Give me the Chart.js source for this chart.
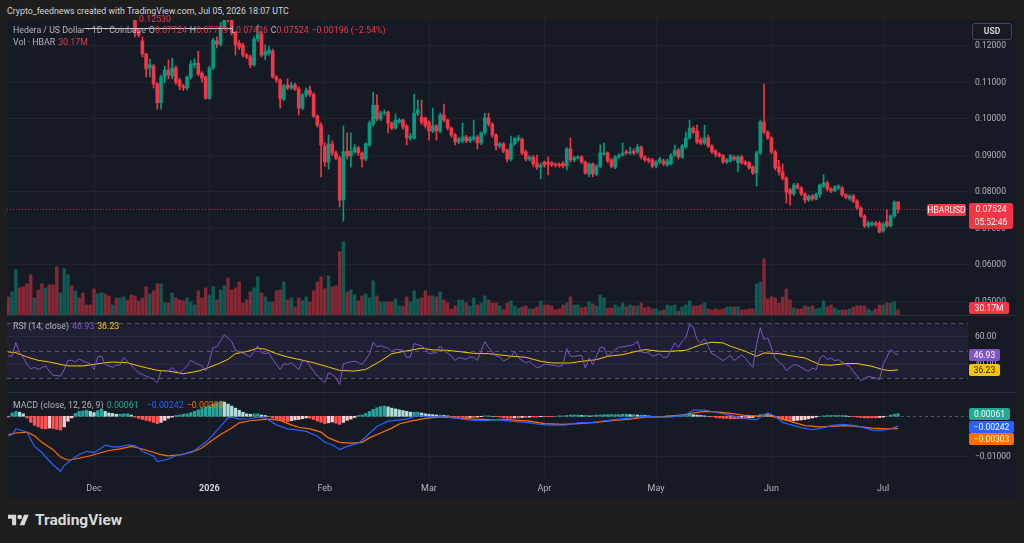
<!DOCTYPE html>
<html>
<head>
<meta charset="utf-8">
<title>HBARUSD 1D</title>
<script src="https://cdn.jsdelivr.net/npm/chart.js@4.4.1/dist/chart.umd.min.js"></script>
<style>
  html, body { margin: 0; padding: 0; }
  body { width: 1024px; height: 543px; background: #1e1e1e; position: relative; overflow: hidden; font-family: Roboto, "DejaVu Sans", sans-serif; }
  #frame { position: absolute; left: 7px; top: 20px; width: 1010px; height: 479px; background: #161a25; }
  canvas { position: absolute; left: 7px; }
  .sep { position: absolute; left: 7px; width: 1010px; height: 1px; background: #2a2e39; }
  .txt { position: absolute; white-space: nowrap; font-size: 8.8px; line-height: 12px; }
  .g { color: #b2b5be; }
  .r { color: #f23645; }
  .sp { margin-left: 3px; }
  .tag { position: absolute; left: 969px; height: 12px; line-height: 12px; font-size: 8.5px; color: #fff; border-radius: 2px; text-align: center; }
</style>
</head>
<body>
<div class="txt" style="left:7px;top:5px;color:#d1d4dc;font-size:8.8px">Crypto_feednews created with TradingView.com, Jul 05, 2026 18:07 UTC</div>
<div id="frame"></div>
<canvas id="priceChart" width="1010" height="295" style="top:20px"></canvas>
<div class="sep" style="top:315px"></div>
<canvas id="rsiChart" width="1010" height="76" style="top:316px"></canvas>
<div class="sep" style="top:392px"></div>
<canvas id="macdChart" width="1010" height="106" style="top:393px"></canvas>

<div class="txt r" style="left:139px;top:13px">0.12530</div>
<div style="position:absolute;left:85px;top:28px;width:147px;height:1px;background:#c8cad0"></div>
<div class="txt g" style="left:13px;top:24px">Hedera / US Dollar · 1D · Coinbase<span class="sp">O</span><span class="r">0.07724</span><span class="sp">H</span><span class="r">0.07739</span><span class="sp">L</span><span class="r">0.07426</span><span class="sp">C</span><span class="r">0.07524</span><span class="sp r">−0.00196 (−2.54%)</span></div>
<div class="txt g" style="left:13px;top:36px">Vol · HBAR<span class="sp r">30.17M</span></div>
<div class="txt g" style="left:13px;top:320px">RSI (14, close)<span class="sp" style="color:#7e57c2">46.93</span><span class="sp" style="color:#f7c600">36.23</span></div>
<div class="txt g" style="left:13px;top:399px">MACD (close, 12, 26, 9)<span class="sp" style="color:#22ab94">0.00061</span><span style="color:#2962ff;margin-left:8px">−0.00242</span><span class="sp" style="color:#ff6d00">−0.00303</span></div>

<div style="position:absolute;left:972px;top:23px;width:38px;height:15px;border:1px solid #434651;border-radius:3px;color:#d1d4dc;font-size:8.5px;line-height:15px;text-align:center;font-weight:bold">USD</div>
<div class="tag" style="left:927px;top:204px;width:39px;background:#f23645">HBARUSD</div>
<div class="tag" style="top:203px;width:44px;height:26px;line-height:13px;background:#f23645">0.07524<br>05:52:46</div>
<div class="tag" style="top:302px;width:40px;background:#f23645">30.17M</div>
<div class="tag" style="top:349px;width:31px;background:#7e57c2">46.93</div>
<div class="tag" style="top:364px;width:31px;background:#f7c600;color:#131722">36.23</div>
<div class="tag" style="top:408px;width:41px;background:#22ab94">0.00061</div>
<div class="tag" style="top:421px;width:45px;background:#2962ff">−0.00242</div>
<div class="tag" style="top:433px;width:45px;background:#ff6d00">−0.00303</div>

<svg style="position:absolute;left:8px;top:512px" width="21" height="17" viewBox="0 0 36 28"><path d="M14 22H7V11H0V4h14v18zM28 22h-8l7.5-18h8L28 22z" fill="#d9d9d9"/><circle cx="20" cy="8" r="4" fill="#d9d9d9"/></svg>
<div class="txt" style="left:35px;top:511px;font-size:15.5px;line-height:18px;font-weight:700;color:#d9d9d9">TradingView</div>

<script>
// day index 0 = Nov 8 2025, last = Jul 5 2026
const monthDays = [23, 54, 85, 113, 144, 174, 205, 235];
const monthLabels = ['Dec', '2026', 'Feb', 'Mar', 'Apr', 'May', 'Jun', 'Jul'];

const priceTicks = [0.05, 0.06, 0.07, 0.08, 0.09, 0.10, 0.11, 0.12];
const rsiTicks = [40, 60];
const rsiLevels = [70, 50, 30];
const macdTicks = [-0.01];

const opens = [
  .1720,.1690,.1715,.1780,.1735,.1690,.1640,.1560,.1585,.1530,
  .1470,.1500,.1455,.1420,.1355,.1400,.1450,.1490,.1460,.1485,
  .1470,.1450,.1442,.1435,.1405,.1440,.1470,.1450,.1430,.1440,
  .1425,.1435,.1450,.1420,.1330,.1238,.1214,.1178,.1140,.1145,
  .1096,.1044,.1115,.1134,.1118,.1140,.1107,.1090,.1085,.1115,
  .1148,.1153,.1126,.1115,.1057,.1140,.1214,.1205,.1252,.1290,
  .1272,.1236,.1208,.1203,.1175,.1170,.1148,.1219,.1233,.1175,
  .1181,.1186,.1115,.1107,.1055,.1093,.1085,.1093,.1082,.1030,
  .1066,.1079,.1068,.1008,.0983,.0926,.0882,.0932,.0907,.0893,
  .0778,.0912,.0898,.0910,.0921,.0907,.0890,.0929,.0986,.1038,
  .1000,.1016,.1019,.0989,.0975,.0992,.0997,.0981,.0948,.0948,
  .1016,.1006,.1003,.0992,.0967,.0981,.0967,.1011,.0997,.0975,
  .0956,.0937,.0940,.0951,.0940,.0945,.0951,.0934,.0962,.1003,
  .0986,.0956,.0926,.0932,.0915,.0890,.0932,.0943,.0945,.0910,
  .0890,.0896,.0879,.0868,.0882,.0882,.0879,.0877,.0876,.0879,
  .0871,.0918,.0888,.0893,.0896,.0882,.0849,.0877,.0849,.0871,
  .0904,.0907,.0888,.0868,.0896,.0901,.0910,.0907,.0912,.0910,
  .0923,.0896,.0890,.0888,.0871,.0882,.0885,.0874,.0877,.0901,
  .0915,.0896,.0923,.0948,.0975,.0967,.0942,.0934,.0948,.0926,
  .0912,.0904,.0899,.0882,.0885,.0896,.0880,.0896,.0882,.0880,
  .0869,.0852,.0907,.0992,.0964,.0948,.0910,.0869,.0855,.0838,
  .0806,.0795,.0819,.0811,.0795,.0778,.0789,.0781,.0794,.0816,
  .0825,.0808,.0803,.0811,.0811,.0792,.0781,.0789,.0775,.0756,
  .0734,.0707,.0710,.0715,.0715,.0693,.0718,.0707,.0734,.07724
];
const highs = [
  .1745,.1730,.1800,.1790,.1750,.1700,.1650,.1600,.1595,.1545,
  .1515,.1510,.1470,.1430,.1410,.1460,.1500,.1500,.1495,.1495,
  .1480,.1460,.1455,.1445,.1450,.1480,.1475,.1460,.1450,.1450,
  .1445,.1460,.1455,.1425,.1340,.1245,.1225,.1180,.1164,.1150,
  .1100,.1120,.1145,.1162,.1167,.1145,.1112,.1095,.1118,.1160,
  .1165,.1186,.1130,.1118,.1145,.1222,.1225,.1265,.1300,.1310,
  .1280,.1240,.1215,.1207,.1180,.1175,.1225,.1258,.1240,.1203,
  .1200,.1192,.1120,.1110,.1095,.1110,.1100,.1098,.1088,.1070,
  .1085,.1090,.1072,.1012,.0990,.0935,.0956,.0940,.0912,.0898,
  .0981,.0962,.0962,.0930,.0925,.0910,.0935,.0995,.1074,.1066,
  .1022,.1025,.1022,.0992,.1014,.1002,.1000,.0984,.0960,.1068,
  .1052,.1052,.1005,.0995,.1030,.0985,.1016,.1041,.1000,.0978,
  .0960,.0950,.0989,.0955,.0952,.0997,.0955,.0965,.1016,.1016,
  .0990,.0960,.0936,.0935,.0918,.0953,.0950,.0955,.0948,.0915,
  .0900,.0900,.0901,.0880,.0885,.0896,.0884,.0880,.0880,.0883,
  .0922,.0948,.0898,.0900,.0900,.0885,.0880,.0880,.0875,.0929,
  .0934,.0910,.0892,.0900,.0905,.0934,.0915,.0923,.0918,.0931,
  .0926,.0900,.0894,.0892,.0886,.0895,.0890,.0890,.0905,.0929,
  .0920,.0930,.0964,.0997,.0980,.0983,.0948,.0983,.0956,.0930,
  .0916,.0908,.0903,.0892,.0903,.0900,.0900,.0900,.0886,.0884,
  .0872,.0912,.0997,.1096,.0968,.0952,.0914,.0887,.0877,.0842,
  .0810,.0824,.0824,.0815,.0798,.0792,.0793,.0797,.0822,.0847,
  .0830,.0812,.0818,.0820,.0815,.0796,.0793,.0793,.0779,.0760,
  .0738,.0720,.0719,.0719,.0719,.0716,.0751,.0738,.0776,.07739
];
const lows = [
  .1680,.1670,.1700,.1720,.1680,.1620,.1545,.1540,.1515,.1455,
  .1450,.1440,.1405,.1340,.1330,.1390,.1440,.1450,.1450,.1460,
  .1440,.1430,.1425,.1395,.1395,.1430,.1440,.1420,.1420,.1415,
  .1415,.1425,.1410,.1320,.1225,.1225,.1170,.1115,.1115,.1085,
  .1027,.1027,.1100,.1110,.1110,.1095,.1080,.1078,.1080,.1110,
  .1140,.1118,.1101,.1054,.1054,.1135,.1195,.1200,.1245,.1265,
  .1230,.1175,.1190,.1170,.1165,.1140,.1145,.1212,.1170,.1162,
  .1175,.1112,.1100,.1030,.1050,.1080,.1080,.1078,.1011,.1025,
  .1060,.1062,.1004,.0978,.0841,.0870,.0863,.0900,.0888,.0759,
  .0720,.0890,.0868,.0905,.0900,.0868,.0885,.0925,.0980,.0995,
  .0995,.1010,.0962,.0970,.0972,.0988,.0972,.0929,.0942,.0945,
  .1010,.0985,.0975,.0942,.0962,.0942,.0962,.0992,.0970,.0950,
  .0929,.0932,.0935,.0935,.0935,.0940,.0918,.0930,.0958,.0980,
  .0950,.0915,.0920,.0908,.0882,.0885,.0928,.0938,.0902,.0885,
  .0885,.0870,.0862,.0836,.0868,.0847,.0870,.0868,.0868,.0866,
  .0860,.0882,.0883,.0890,.0878,.0848,.0842,.0842,.0845,.0866,
  .0900,.0880,.0866,.0864,.0892,.0898,.0903,.0903,.0902,.0905,
  .0890,.0884,.0880,.0866,.0866,.0878,.0872,.0870,.0874,.0898,
  .0890,.0892,.0920,.0945,.0960,.0932,.0930,.0930,.0922,.0905,
  .0896,.0895,.0878,.0878,.0882,.0886,.0855,.0876,.0873,.0862,
  .0848,.0816,.0903,.0960,.0944,.0905,.0860,.0846,.0832,.0770,
  .0764,.0790,.0808,.0790,.0770,.0774,.0776,.0778,.0786,.0812,
  .0803,.0798,.0800,.0806,.0788,.0782,.0777,.0771,.0752,.0730,
  .0703,.0703,.0706,.0706,.0688,.0690,.0703,.0704,.0730,.07426
];
const closes = [
  .1690,.1715,.1780,.1735,.1690,.1640,.1560,.1585,.1530,.1470,
  .1500,.1455,.1420,.1355,.1400,.1450,.1490,.1460,.1485,.1470,
  .1450,.1442,.1435,.1405,.1440,.1470,.1450,.1430,.1440,.1425,
  .1435,.1450,.1420,.1330,.1238,.1230,.1178,.1137,.1148,.1096,
  .1044,.1115,.1134,.1120,.1140,.1101,.1090,.1085,.1115,.1151,
  .1153,.1123,.1112,.1057,.1140,.1216,.1205,.1252,.1280,.1272,
  .1236,.1203,.1197,.1175,.1170,.1148,.1219,.1233,.1175,.1184,
  .1189,.1115,.1107,.1055,.1090,.1085,.1093,.1082,.1030,.1066,
  .1079,.1068,.1008,.0983,.0929,.0882,.0932,.0907,.0893,.0778,
  .0910,.0898,.0912,.0921,.0907,.0890,.0932,.0989,.1038,.1000,
  .1016,.1019,.0989,.0975,.0997,.0997,.0978,.0948,.0953,.1016,
  .1025,.0991,.0981,.0967,.0981,.0967,.1011,.0997,.0975,.0956,
  .0937,.0945,.0951,.0940,.0948,.0951,.0934,.0962,.1003,.0986,
  .0956,.0926,.0932,.0912,.0890,.0932,.0945,.0948,.0907,.0890,
  .0896,.0877,.0868,.0874,.0874,.0877,.0874,.0874,.0872,.0871,
  .0918,.0888,.0893,.0896,.0882,.0852,.0877,.0849,.0871,.0907,
  .0907,.0885,.0871,.0896,.0901,.0907,.0907,.0910,.0907,.0923,
  .0896,.0888,.0885,.0871,.0882,.0890,.0877,.0885,.0901,.0915,
  .0896,.0926,.0948,.0975,.0964,.0937,.0934,.0948,.0926,.0910,
  .0904,.0899,.0882,.0888,.0899,.0890,.0896,.0880,.0877,.0866,
  .0852,.0907,.0992,.0964,.0948,.0910,.0866,.0855,.0838,.0800,
  .0795,.0819,.0811,.0795,.0778,.0789,.0781,.0794,.0819,.0825,
  .0808,.0803,.0814,.0816,.0792,.0786,.0789,.0775,.0756,.0734,
  .0707,.0715,.0715,.0710,.0690,.0712,.0707,.0734,.0772,.07524
];
// volume in millions of HBAR
const volumes = [
  108,138,270,162,168,186,240,102,150,186,
  162,180,180,288,132,276,240,174,144,102,
  132,60,60,156,126,132,126,114,60,102,
  102,108,90,120,114,84,102,168,126,144,
  186,186,72,72,132,102,90,84,102,78,
  60,144,102,162,120,168,90,150,174,222,
  150,162,198,72,90,138,162,228,132,108,
  78,78,144,150,198,90,102,48,102,84,
  108,78,144,198,228,156,234,168,174,378,
  438,138,150,120,84,114,126,102,204,114,
  78,78,78,78,96,54,54,108,78,144,
  96,102,144,114,114,108,138,90,72,36,
  54,90,90,72,54,102,60,72,114,90,
  72,72,54,30,72,84,54,42,48,54,
  36,36,48,84,60,60,54,30,36,60,
  72,108,60,60,42,48,78,66,54,120,
  102,42,42,60,48,72,48,60,54,54,
  72,42,48,36,36,24,30,60,54,60,
  24,48,60,84,54,54,60,72,36,30,
  36,30,36,48,48,48,48,30,30,36,
  36,186,198,336,96,108,102,72,108,156,
  90,42,36,36,54,48,54,36,42,84,
  48,60,42,30,30,30,36,48,54,54,
  54,36,24,36,60,60,72,72,78,30.17
];

const rsiDays = [0,1,2,3,4,5,6,7,8,10,11,12,14,15,16,17,18,19,20,22,23,24,25,26,28,29,30,31,33,34,35,37,38,39,40,41,43,44,45,46,47,48,49,50,52,53,54,55,56,57,58,60,61,62,64,65,66,67,68,69,70,71,72,73,74,75,76,78,79,80,81,82,83,84,85,86,87,88,89,90,91,93,94,95,97,98,99,100,102,103,104,106,107,108,109,111,112,113,115,116,117,119,120,121,123,124,125,126,127,128,129,131,132,133,135,136,137,139,140,142,143,144,146,148,149,150,151,152,154,155,156,157,159,160,161,163,164,166,168,169,170,172,173,175,176,177,179,180,181,182,183,184,185,186,187,188,189,190,192,193,194,195,197,198,200,201,202,203,204,205,206,207,208,209,211,212,214,215,216,217,218,219,220,221,222,223,225,226,227,229,231,232,233,234,235,237,238,239];
const rsiValues = [46,46,55.8,48.5,45,40,37,38,36.5,39,35.3,32.4,31.7,36.5,43,43,41.8,44,42.5,40.6,36.5,45.4,46,40,38,39.6,39.6,45,39.6,36.5,34,31.7,30.5,29.3,26.9,35.3,35.3,37.7,35.3,34,36.5,39,43,41.3,39,35.3,42.5,52.2,52.7,57,61.3,56.5,50.2,49.3,46.9,45.4,49.8,53.4,48.5,47.8,48.5,43.7,40.1,36.5,40.6,40.1,41.3,36.5,42.5,42.5,39,35.3,31.7,29.3,26.9,34,32.9,30.5,25.7,40.6,41.3,42.5,41.3,40.1,47.3,55.8,52.7,53.4,51.7,49.3,51,50.2,45,45.4,55,53.4,51,47.8,48.5,53.4,49.8,46.1,43,45,43.7,45.4,45,43,49.8,56.5,52.2,46.1,45.4,42.5,45.4,49.5,44.7,41.1,42.3,37.5,38.7,40.4,39.5,38.7,39.9,51.4,45.9,45.9,46.6,37.5,44.7,39.9,52.4,51.9,45.9,50.7,52.4,53.1,54.3,56.7,49,48.3,45.9,47.6,45.2,45.2,55.5,52.4,56.7,59.1,68.7,66.8,57.9,55.5,58.6,53.1,47.6,46.6,42.8,44.7,46.6,42.8,47.1,44.3,38,54.3,66.3,57.9,59.1,51.9,44.3,41.9,39.9,35.6,39.9,39.5,36.3,35.2,37.5,36.3,44.7,46.6,43.5,44.7,42.8,43.5,39.9,38.7,35.2,28.4,31.6,30.8,30.4,29.2,39.9,50.7,48.3,46.93];

const rsiMaDays = [0,2,5,8,11,16,20,23,26,28,32,35,40,43,47,51,53,56,59,61,64,67,69,72,75,78,82,86,89,93,96,100,103,107,111,114,118,121,125,129,132,135,139,143,146,151,154,158,161,165,168,171,175,178,182,186,189,192,194,198,201,203,207,211,214,218,221,225,228,232,235,237,239];
const rsiMaValues = [49,48.5,45.4,43,41.8,39,39,40.1,41.3,41.8,41.3,39,35.8,35.3,33.4,35.3,37,40.1,43.7,47.8,49.3,51.7,51,47.8,45.4,43.7,41.3,38.2,35.8,35.3,36.5,42.5,47.8,49.8,51.7,50.5,50.2,49.3,48,47.8,46.9,46,45.2,42.3,41.1,41.1,42.3,43.5,45.9,47.1,49,50.7,49.5,49.5,50.2,54.3,56,55.5,53.1,49.5,45.9,48.3,47.8,45.9,44.7,39.9,39.5,40.7,40.7,38.7,36.3,35.6,36.23];

const macdDays = [0,1,2,3,5,6,7,9,10,12,14,15,17,19,21,23,25,26,28,30,32,34,36,39,40,43,45,47,50,52,53,55,57,59,60,62,65,67,69,72,75,78,80,83,85,87,89,91,94,96,99,102,104,107,110,112,115,118,120,123,126,129,131,135,139,143,146,150,153,157,160,164,168,171,175,178,182,184,187,190,193,196,199,201,203,204,206,208,211,213,216,219,221,224,227,229,232,235,237,239];
const macdValues = [-0.0049,-0.0045,-0.0031,-0.0033,-0.0039,-0.0057,-0.0074,-0.0089,-0.0100,-0.0119,-0.0135,-0.0121,-0.0107,-0.0094,-0.0086,-0.0089,-0.0078,-0.0071,-0.0075,-0.0075,-0.0070,-0.0072,-0.0086,-0.0098,-0.0111,-0.0105,-0.0097,-0.0093,-0.0084,-0.0070,-0.0064,-0.0045,-0.0025,-0.0004,-0.0002,-0.0007,-0.0006,-0.0002,-0.0004,-0.0021,-0.0031,-0.0034,-0.0037,-0.0049,-0.0064,-0.0070,-0.0082,-0.0074,-0.0066,-0.0051,-0.0025,-0.0012,-0.0010,-0.0007,0.0002,0.0000,-0.0002,-0.0002,-0.0004,-0.0008,-0.0011,-0.0010,-0.0008,-0.0012,-0.0015,-0.0020,-0.0022,-0.0021,-0.0016,-0.0015,-0.0011,-0.0007,-0.0004,0.0000,-0.0002,-0.0002,0.0004,0.0015,0.0015,0.0010,0.0004,-0.0002,-0.0007,-0.0008,0.0004,0.0008,0.0000,-0.0015,-0.0023,-0.0028,-0.0033,-0.0028,-0.0023,-0.0020,-0.0022,-0.0026,-0.0034,-0.0034,-0.0031,-0.00242];

const signalDays = [0,2,5,7,9,12,14,16,19,22,25,27,30,33,35,38,41,43,46,49,52,54,57,60,62,65,68,70,73,76,78,81,84,86,89,92,95,97,100,103,105,108,111,113,116,119,121,125,129,132,135,140,144,149,153,158,162,167,171,176,180,184,187,191,194,198,202,204,207,211,214,218,221,225,228,232,236,239];
const signalValues = [-0.0045,-0.0041,-0.0039,-0.0048,-0.0064,-0.0082,-0.0100,-0.0108,-0.0103,-0.0097,-0.0089,-0.0084,-0.0080,-0.0074,-0.0078,-0.0086,-0.0094,-0.0097,-0.0095,-0.0089,-0.0078,-0.0064,-0.0045,-0.0029,-0.0016,-0.0011,-0.0008,-0.0007,-0.0010,-0.0021,-0.0027,-0.0031,-0.0039,-0.0053,-0.0064,-0.0066,-0.0064,-0.0053,-0.0041,-0.0029,-0.0019,-0.0012,-0.0007,-0.0004,-0.0002,-0.0003,-0.0005,-0.0007,-0.0008,-0.0008,-0.0009,-0.0012,-0.0018,-0.0020,-0.0018,-0.0015,-0.0011,-0.0007,-0.0002,-0.0001,0.0002,0.0008,0.0012,0.0010,0.0007,0.0002,0.0000,0.0002,-0.0004,-0.0015,-0.0023,-0.0026,-0.0025,-0.0023,-0.0025,-0.0029,-0.0031,-0.00303];

const histValues = [
  -0.0002,0.0008,0.0012,0.0010,0.0006,-0.0004,-0.0015,-0.0022,-0.0026,-0.0030,
  -0.0031,-0.0029,-0.0030,-0.0032,-0.0034,-0.0026,-0.0012,-0.0004,0.0007,0.0012,
  0.0013,0.0015,0.0012,0.0009,0.0014,0.0017,0.0012,0.0008,0.0007,0.0005,
  0.0005,0.0006,0.0006,0.0003,-0.0002,-0.0005,-0.0008,-0.0010,-0.0012,-0.0015,
  -0.0018,-0.0015,-0.0010,-0.0005,-0.0002,0.0002,0.0003,0.0005,0.0006,0.0009,
  0.0012,0.0016,0.0019,0.0023,0.0026,0.0030,0.0033,0.0036,0.0035,0.0030,
  0.0025,0.0020,0.0015,0.0010,0.0006,0.0005,0.0006,0.0006,0.0003,0.0002,
  0.0000,-0.0004,-0.0007,-0.0010,-0.0012,-0.0013,-0.0011,-0.0009,-0.0008,-0.0006,
  -0.0004,-0.0005,-0.0008,-0.0012,-0.0015,-0.0018,-0.0016,-0.0014,-0.0017,-0.0020,
  -0.0015,-0.0010,-0.0007,-0.0003,0.0002,0.0003,0.0007,0.0012,0.0017,0.0021,
  0.0024,0.0025,0.0023,0.0020,0.0018,0.0016,0.0014,0.0012,0.0010,0.0010,
  0.0010,0.0008,0.0006,0.0005,0.0004,0.0003,0.0003,0.0002,0.0001,-0.0001,
  -0.0002,-0.0003,-0.0003,-0.0004,-0.0003,-0.0003,-0.0002,-0.0001,0.0001,0.0001,
  0.0000,-0.0001,-0.0002,-0.0004,-0.0005,-0.0005,-0.0004,-0.0004,-0.0003,-0.0003,
  -0.0002,-0.0002,-0.0002,-0.0001,-0.0001,-0.0001,-0.0001,0.0000,0.0001,0.0001,
  0.0002,0.0003,0.0003,0.0003,0.0002,0.0002,0.0001,0.0002,0.0003,0.0003,
  0.0004,0.0004,0.0004,0.0004,0.0004,0.0005,0.0005,0.0004,0.0004,0.0003,
  0.0003,0.0002,0.0001,0.0000,-0.0001,-0.0001,0.0000,0.0001,0.0001,0.0002,
  0.0003,0.0004,0.0005,0.0005,0.0004,0.0003,0.0002,0.0001,0.0000,-0.0001,
  -0.0003,-0.0004,-0.0005,-0.0005,-0.0006,-0.0006,-0.0006,-0.0005,-0.0005,-0.0004,
  -0.0003,0.0001,0.0004,0.0005,0.0004,0.0002,-0.0002,-0.0006,-0.0009,-0.0011,
  -0.0012,-0.0011,-0.0010,-0.0009,-0.0008,-0.0006,-0.0004,-0.0002,0.0000,0.0001,
  0.0002,0.0002,0.0002,0.0002,0.0002,0.0001,0.0000,-0.0001,-0.0002,-0.0003,
  -0.0004,-0.0004,-0.0004,-0.0004,-0.0003,-0.0002,0.0000,0.0003,0.0005,0.00061
];

const UP = '#089981', DOWN = '#f23645';
const GRID = 'rgba(42,46,57,0.55)';
const AXIS_TEXT = '#b2b5be';

Chart.defaults.font.family = 'Roboto, "DejaVu Sans", sans-serif';
Chart.defaults.animation = false;
Chart.defaults.plugins.legend.display = false;
Chart.defaults.plugins.tooltip.enabled = false;

// horizontal levels, band and price line drawn with the pane's own y scale
const paneLines = {
  id: 'paneLines',
  beforeDatasetsDraw(chart, args, opts) {
    const { ctx, chartArea: a } = chart;
    const y = chart.scales[opts.scale || 'y'];
    ctx.save();
    if (opts.band) {
      const top = y.getPixelForValue(opts.band[1]);
      const bottom = y.getPixelForValue(opts.band[0]);
      ctx.fillStyle = opts.bandColor;
      ctx.fillRect(a.left, top, a.right - a.left, bottom - top);
    }
    (opts.lines || []).forEach(l => {
      const py = Math.round(y.getPixelForValue(l.value)) + 0.5;
      ctx.strokeStyle = l.color;
      ctx.lineWidth = 1;
      ctx.setLineDash(l.dash);
      ctx.beginPath();
      ctx.moveTo(a.left, py);
      ctx.lineTo(a.right, py);
      ctx.stroke();
    });
    ctx.restore();
  }
};

function timeAxis(showLabels) {
  return {
    type: 'linear', min: -0.376, max: 257.8, offset: false,
    afterBuildTicks: s => { s.ticks = monthDays.map(d => ({ value: d })); },
    afterFit: s => { s.height = showLabels ? 21 : 0; s.paddingLeft = 0; s.paddingRight = 0; },
    grid: { color: GRID, drawTicks: false, offset: false },
    border: { display: false },
    ticks: {
      display: showLabels, autoSkip: false, maxRotation: 0, padding: 5,
      callback: (v, i) => monthLabels[i],
      color: c => (c.tick && c.tick.value === 54) ? '#d1d4dc' : AXIS_TEXT,
      font: c => ({ size: 9, weight: (c.tick && c.tick.value === 54) ? 'bold' : 'normal' })
    }
  };
}

function valueAxis(min, max, tickValues, fmt) {
  return {
    type: 'linear', position: 'right', min, max,
    afterBuildTicks: s => { s.ticks = tickValues.map(v => ({ value: v })); },
    afterFit: s => { s.width = 49; s.paddingTop = 0; s.paddingBottom = 0; },
    grid: { color: GRID, drawTicks: false },
    border: { display: false },
    ticks: { padding: 7, color: AXIS_TEXT, font: { size: 8.5 }, callback: fmt }
  };
}

const candleColors = opens.map((o, i) => closes[i] >= o ? UP : DOWN);
const volumeColors = opens.map((o, i) => closes[i] >= o ? 'rgba(8,153,129,0.5)' : 'rgba(242,54,69,0.5)');

new Chart(document.getElementById('priceChart'), {
  type: 'bar',
  data: {
    datasets: [
      { data: volumes.map((v, i) => ({ x: i, y: v })), yAxisID: 'vol', backgroundColor: volumeColors, barThickness: 2.8, order: 3 },
      { data: lows.map((l, i) => ({ x: i, y: [l, highs[i]] })), yAxisID: 'y', backgroundColor: candleColors, barThickness: 1, order: 2 },
      { data: opens.map((o, i) => ({ x: i, y: [o, closes[i]] })), yAxisID: 'y', backgroundColor: candleColors, barThickness: 3, minBarLength: 1, order: 1 }
    ]
  },
  options: {
    responsive: false,
    datasets: { bar: { grouped: false } },
    scales: {
      x: timeAxis(false),
      y: valueAxis(0.046301, 0.127123, priceTicks, v => v.toFixed(5)),
      vol: { type: 'linear', axis: 'y', display: false, min: 0, max: 1760 }
    },
    plugins: {
      paneLines: { scale: 'y', lines: [{ value: closes[closes.length - 1], color: 'rgba(242,54,69,0.75)', dash: [1, 2] }] }
    }
  },
  plugins: [paneLines]
});

new Chart(document.getElementById('rsiChart'), {
  type: 'line',
  data: {
    datasets: [
      { data: rsiDays.map((d, i) => ({ x: d, y: rsiValues[i] })), borderColor: '#7e57c2', borderWidth: 1, pointRadius: 0, tension: 0, order: 1 },
      { data: rsiMaDays.map((d, i) => ({ x: d, y: rsiMaValues[i] })), borderColor: '#f7c600', borderWidth: 1, pointRadius: 0, tension: 0, order: 2 }
    ]
  },
  options: {
    responsive: false,
    scales: {
      x: timeAxis(false),
      y: valueAxis(20.3, 74.8, rsiTicks, v => v.toFixed(2))
    },
    plugins: {
      paneLines: {
        scale: 'y', band: [30, 70], bandColor: 'rgba(126,87,194,0.1)',
        lines: rsiLevels.map(v => ({ value: v, color: 'rgba(120,123,134,0.6)', dash: [4, 4] }))
      }
    }
  },
  plugins: [paneLines]
});

const histColors = histValues.map((v, i) => {
  const prev = i ? histValues[i - 1] : 0;
  if (v >= 0) return v >= prev ? '#26a69a' : '#b2dfdb';
  return v <= prev ? '#ff5252' : '#ffcdd2';
});

new Chart(document.getElementById('macdChart'), {
  type: 'bar',
  data: {
    datasets: [
      { data: histValues.map((v, i) => ({ x: i, y: v })), backgroundColor: histColors, barThickness: 2.6, order: 3 },
      { type: 'line', data: signalDays.map((d, i) => ({ x: d, y: signalValues[i] })), borderColor: '#ff6d00', borderWidth: 1.2, pointRadius: 0, tension: 0, order: 2 },
      { type: 'line', data: macdDays.map((d, i) => ({ x: d, y: macdValues[i] })), borderColor: '#2962ff', borderWidth: 1.2, pointRadius: 0, tension: 0, order: 1 }
    ]
  },
  options: {
    responsive: false,
    datasets: { bar: { grouped: false } },
    scales: {
      x: timeAxis(true),
      y: valueAxis(-0.01516, 0.00572, macdTicks, v => v.toFixed(5).replace('-', '\u2212'))
    },
    plugins: {
      paneLines: { scale: 'y', lines: [{ value: 0, color: 'rgba(120,123,134,0.6)', dash: [3, 3] }] }
    }
  },
  plugins: [paneLines]
});
</script>
</body>
</html>
